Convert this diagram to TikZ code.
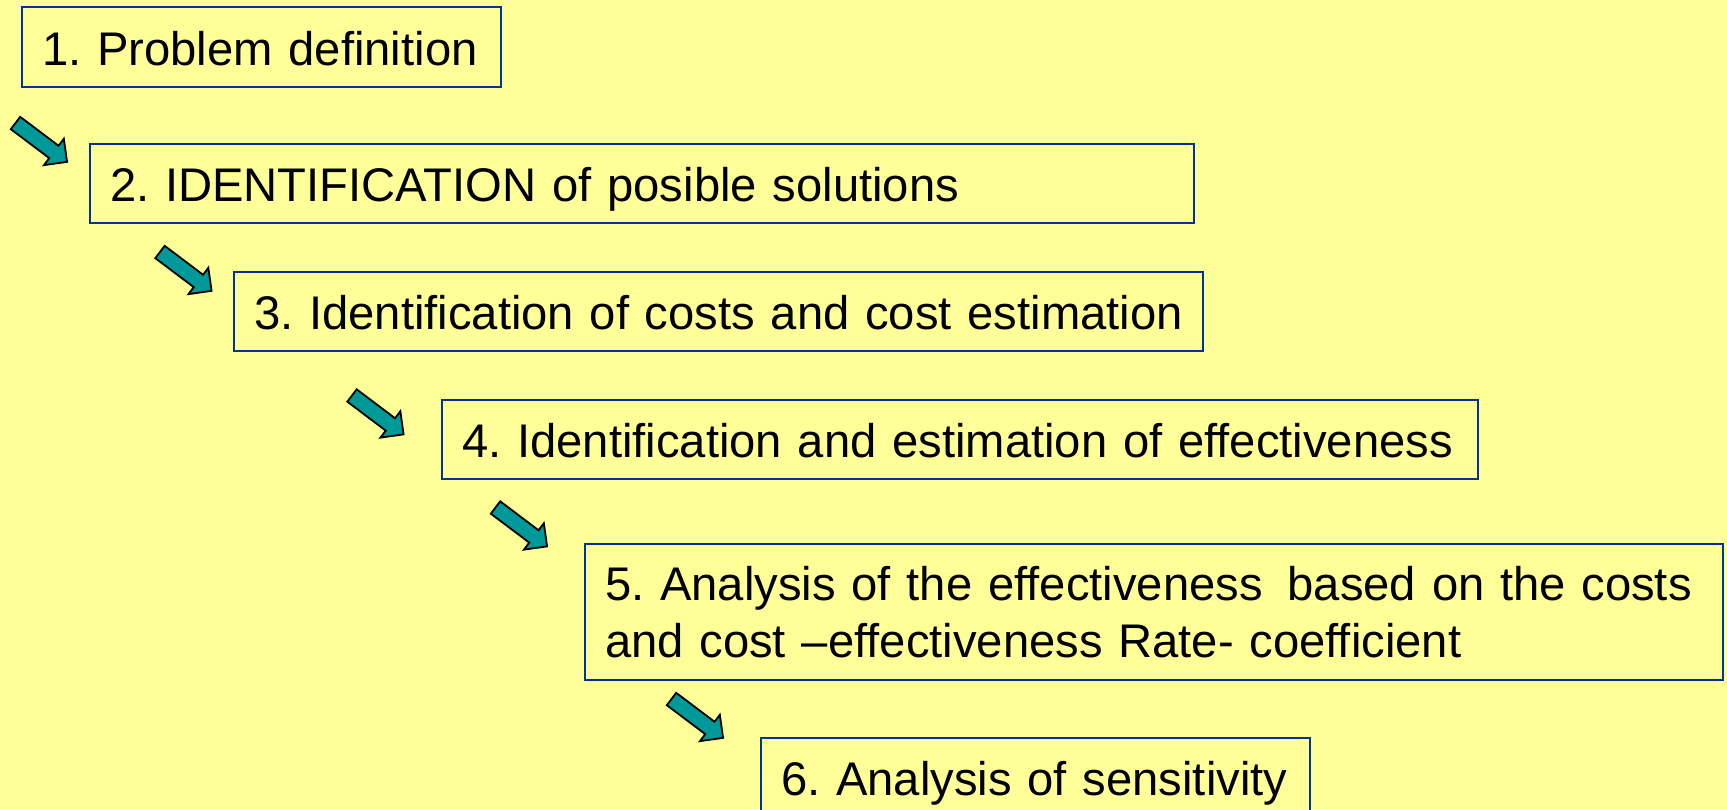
\documentclass[tikz,border=0pt]{standalone}
\usepackage{fontspec}
\setmainfont{Liberation Sans}
\frenchspacing
\definecolor{bgyellow}{RGB}{255,255,153}
\definecolor{boxblue}{RGB}{0,51,153}
\definecolor{arrowteal}{RGB}{0,153,153}
\tikzset{
  stepbox/.style={draw=boxblue, line width=2.2pt, fill=bgyellow, anchor=north west,
    inner xsep=20pt, inner ysep=0pt, align=left,
    font=\fontsize{47.2}{57}\selectfont},
  oneline/.style={text height=36pt, text depth=0pt, minimum height=79pt},
  stepar/.pic={
    \draw[draw=black, line width=1.8pt, fill=arrowteal, line join=miter]
      (0,-7.75) -- (48.1,-7.75) -- (48.1,-16.5) -- (64.6,0) -- (48.1,16.5)
      -- (48.1,7.75) -- (0,7.75) -- cycle;
  }
}
\begin{document}
\begin{tikzpicture}[x=1pt,y=-1pt]
\useasboundingbox (0,0) rectangle (1727,809);
\fill[bgyellow] (0,0) rectangle (1727,809);
\clip (0,0) rectangle (1727,809);
\node[stepbox, oneline, minimum width=479pt, text width=439pt, minimum height=80pt] (s1) at (21,6) {\mbox{1. Problem definition}};
\node[stepbox, oneline, minimum width=1104pt, text width=1064pt] (s2) at (89,143) {\mbox{2. IDENTIFICATION of posible solutions}};
\node[stepbox, oneline, minimum width=969pt, text width=929pt] (s3) at (233,271) {\mbox{3. Identification of costs and cost estimation}};
\node[stepbox, oneline, minimum width=1036pt, text width=996pt] (s4) at (441,399) {\mbox{4. Identification and estimation of effectiveness}};
\node[stepbox, minimum width=1138pt, text width=1098pt, minimum height=136pt] (s5) at (584,543) {\mbox{5. Analysis of the effectiveness\hspace{25pt}based on the costs}\\\mbox{and cost –effectiveness Rate- coefficient}};
\node[stepbox, oneline, minimum width=549pt, text width=509pt] (s6) at (760,737) {\mbox{6. Analysis of sensitivity}};
\pic[rotate=-37] (a1) at (15.5,123) {stepar};
\pic[rotate=-37] (a2) at (160,252) {stepar};
\pic[rotate=-37] (a3) at (352,395.5) {stepar};
\pic[rotate=-37] (a4) at (495.5,507.5) {stepar};
\pic[rotate=-37] (a5) at (671.5,699) {stepar};
\end{tikzpicture}
\end{document}
